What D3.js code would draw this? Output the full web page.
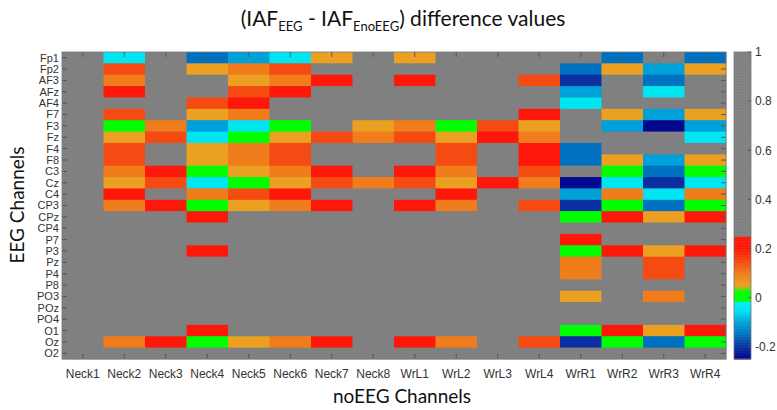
<!DOCTYPE html>
<html><head><meta charset="utf-8">
<script src="https://cdn.jsdelivr.net/npm/d3@7"></script>
<style>body{margin:0;background:#fff}</style>
</head><body>
<script>
const rowLabels = ["Fp1","Fp2","AF3","AFz","AF4","F7","F3","Fz","F4","F8","C3","Cz","C4","CP3","CPz","CP4","P7","P3","Pz","P4","P8","PO3","POz","PO4","O1","Oz","O2"];
const colLabels = ["Neck1","Neck2","Neck3","Neck4","Neck5","Neck6","Neck7","Neck8","WrL1","WrL2","WrL3","WrL4","WrR1","WrR2","WrR3","WrR4"];
const _ = null;
const values = [
 [_,-0.05,_,-0.15,-0.1,-0.05,0.05,_,0.05,_,_,_,_,-0.15,_,-0.15],
 [_,0.15,_,0.05,0.1,0.15,_,_,_,_,_,_,-0.15,0.05,-0.1,0.05],
 [_,0.1,_,_,0.05,0.1,0.2,_,0.2,_,_,0.15,-0.2,_,-0.15,_],
 [_,0.2,_,_,0.15,0.2,_,_,_,_,_,_,-0.1,_,-0.05,_],
 [_,_,_,0.15,0.2,_,_,_,_,_,_,_,-0.05,_,_,_],
 [_,0.15,_,0.05,0.1,_,_,_,_,_,_,0.2,_,0.05,-0.1,0.05],
 [_,0,0.1,-0.1,-0.05,0,_,0.05,0.1,0,0.15,0.05,_,-0.1,-0.24,-0.1],
 [_,0.05,0.15,-0.05,0,0.05,0.15,0.1,0.15,0.05,0.2,0.1,_,_,_,-0.05],
 [_,0.15,_,0.05,0.1,0.15,_,_,_,0.15,_,0.2,-0.15,_,_,_],
 [_,0.15,_,0.05,0.1,0.15,_,_,_,0.15,_,0.2,-0.15,0.05,-0.1,0.05],
 [_,0.1,0.2,0,0.05,0.1,0.2,_,0.2,0.1,_,0.15,_,0,-0.15,0],
 [_,0.05,0.15,-0.05,0,0.05,0.15,0.1,0.15,0.05,0.2,0.1,-0.24,-0.05,-0.2,-0.05],
 [_,0.2,_,0.1,0.15,0.2,_,_,_,0.2,_,_,-0.1,0.1,-0.05,0.1],
 [_,0.1,0.2,0,0.05,0.1,0.2,_,0.2,0.1,_,0.15,-0.2,0,-0.15,0],
 [_,_,_,0.2,_,_,_,_,_,_,_,_,0,0.2,0.05,0.2],
 [_,_,_,_,_,_,_,_,_,_,_,_,_,_,_,_],
 [_,_,_,_,_,_,_,_,_,_,_,_,0.2,_,_,_],
 [_,_,_,0.2,_,_,_,_,_,_,_,_,0,0.2,0.05,0.2],
 [_,_,_,_,_,_,_,_,_,_,_,_,0.1,_,0.15,_],
 [_,_,_,_,_,_,_,_,_,_,_,_,0.1,_,0.15,_],
 [_,_,_,_,_,_,_,_,_,_,_,_,_,_,_,_],
 [_,_,_,_,_,_,_,_,_,_,_,_,0.05,_,0.1,_],
 [_,_,_,_,_,_,_,_,_,_,_,_,_,_,_,_],
 [_,_,_,_,_,_,_,_,_,_,_,_,_,_,_,_],
 [_,_,_,0.2,_,_,_,_,_,_,_,_,0,0.2,0.05,0.2],
 [_,0.1,0.2,0,0.05,0.1,0.2,_,0.2,0.1,_,0.15,-0.2,0,-0.15,0],
 [_,_,_,_,_,_,_,_,_,_,_,_,_,_,_,_]
];
const colorStops = [-0.25,-0.2,-0.15,-0.1,-0.05,-0.016,-0.015,0.025,0.05,0.1,0.15,0.2,0.25];
const colorRange = ["#00008a","#0a2fa0","#0070c0","#00a0d8","#00e5f2","#00f0f0","#00ff00","#00ff00","#eba022","#f07c1c","#f54a12","#ff180a","#ff180a"];
const cbTicks = [-0.2,0,0.2,0.4,0.6,0.8,1];
const grayColor = "#808080";

const W=777,H=410;
const svg=d3.select("body").append("svg").attr("width",W).attr("height",H);
const m={l:62,r:726,t:52,b:359};
const x=d3.scaleBand().domain(colLabels).range([m.l,m.r]);
const y=d3.scaleBand().domain(rowLabels).range([m.t,m.b]);
const color=d3.scaleLinear().domain(colorStops).range(colorRange).clamp(true);
const fill=v=>(v===null||v>0.25)?grayColor:color(v);

const cells=[];
values.forEach((row,i)=>row.forEach((v,j)=>cells.push({r:rowLabels[i],c:colLabels[j],v})));
svg.append("rect").attr("x",m.l).attr("y",m.t).attr("width",m.r-m.l).attr("height",m.b-m.t).attr("fill",grayColor);
svg.append("g").selectAll("rect").data(cells).join("rect")
 .attr("x",d=>x(d.c)).attr("y",d=>y(d.r))
 .attr("width",x.bandwidth()+0.4).attr("height",y.bandwidth()+0.4)
 .attr("fill",d=>fill(d.v));

// ticks inward
const tk="#555";
const g=svg.append("g").attr("stroke",tk).attr("stroke-width",1);
g.selectAll(".lt").data(rowLabels).join("line").attr("x1",m.l).attr("x2",m.l+5).attr("y1",d=>y(d)+y.bandwidth()/2).attr("y2",d=>y(d)+y.bandwidth()/2);
g.selectAll(".rt").data(rowLabels).join("line").attr("class","rt").attr("x1",m.r).attr("x2",m.r-5).attr("y1",d=>y(d)+y.bandwidth()/2).attr("y2",d=>y(d)+y.bandwidth()/2);
g.selectAll(".tt").data(colLabels).join("line").attr("class","tt").attr("y1",m.t).attr("y2",m.t+5).attr("x1",d=>x(d)+x.bandwidth()/2).attr("x2",d=>x(d)+x.bandwidth()/2);
g.selectAll(".bt").data(colLabels).join("line").attr("class","bt").attr("y1",m.b).attr("y2",m.b-5).attr("x1",d=>x(d)+x.bandwidth()/2).attr("x2",d=>x(d)+x.bandwidth()/2);
svg.append("rect").attr("x",m.l).attr("y",m.t).attr("width",m.r-m.l).attr("height",m.b-m.t).attr("fill","none").attr("stroke","#777").attr("stroke-width",0.8);

const lab="#333";
svg.append("g").selectAll("text").data(rowLabels).join("text")
 .attr("x",m.l-3).attr("y",d=>y(d)+y.bandwidth()/2).attr("dy","0.36em")
 .attr("text-anchor","end").attr("font-family","Liberation Sans, Arial").attr("font-size",11).attr("fill",lab).text(d=>d);
svg.append("g").selectAll("text").data(colLabels).join("text")
 .attr("x",d=>x(d)+x.bandwidth()/2).attr("y",m.b+19)
 .attr("text-anchor","middle").attr("font-family","Liberation Sans, Arial").attr("font-size",12).attr("fill",lab).text(d=>d);

// colorbar
const cb={x:734,w:17};
const cy=d3.scaleLinear().domain([-0.25,1]).range([m.b,m.t]);
const steps=d3.range(-0.25,1,0.0025);
svg.append("g").selectAll("rect").data(steps).join("rect")
 .attr("x",cb.x).attr("width",cb.w)
 .attr("y",d=>cy(d+0.0025)).attr("height",d=>cy(d)-cy(d+0.0025)+0.5)
 .attr("fill",d=>fill(d+0.00125));
svg.append("rect").attr("x",cb.x).attr("y",m.t).attr("width",cb.w).attr("height",m.b-m.t).attr("fill","none").attr("stroke","#777").attr("stroke-width",0.8);
svg.append("g").selectAll("line").data(cbTicks).join("line")
 .attr("x1",cb.x+cb.w).attr("x2",cb.x+cb.w-3).attr("y1",d=>cy(d)).attr("y2",d=>cy(d)).attr("stroke","#555");
svg.append("g").selectAll("text").data(cbTicks).join("text")
 .attr("x",cb.x+cb.w+4).attr("y",d=>cy(d)).attr("dy","0.36em")
 .attr("font-family","Liberation Sans, Arial").attr("font-size",12).attr("fill",lab).text(d=>d);

// titles
const tf="Lato, Open Sans, sans-serif";
const t=svg.append("text").attr("x",403).attr("y",26).attr("text-anchor","middle").attr("font-family",tf).attr("font-size",21).attr("fill","#111");
t.append("tspan").text("(IAF");
t.append("tspan").attr("font-size",13).attr("dy",5).text("EEG");
t.append("tspan").attr("dy",-5).text(" - IAF");
t.append("tspan").attr("font-size",13).attr("dy",5).text("EnoEEG");
t.append("tspan").attr("dy",-5).text(") difference values");
svg.append("text").attr("x",402).attr("y",403).attr("text-anchor","middle").attr("font-family",tf).attr("font-size",19).attr("fill","#111").text("noEEG Channels");
svg.append("text").attr("transform","translate(24,205) rotate(-90)").attr("text-anchor","middle").attr("font-family",tf).attr("font-size",19).attr("fill","#111").text("EEG Channels");
</script>
</body></html>
